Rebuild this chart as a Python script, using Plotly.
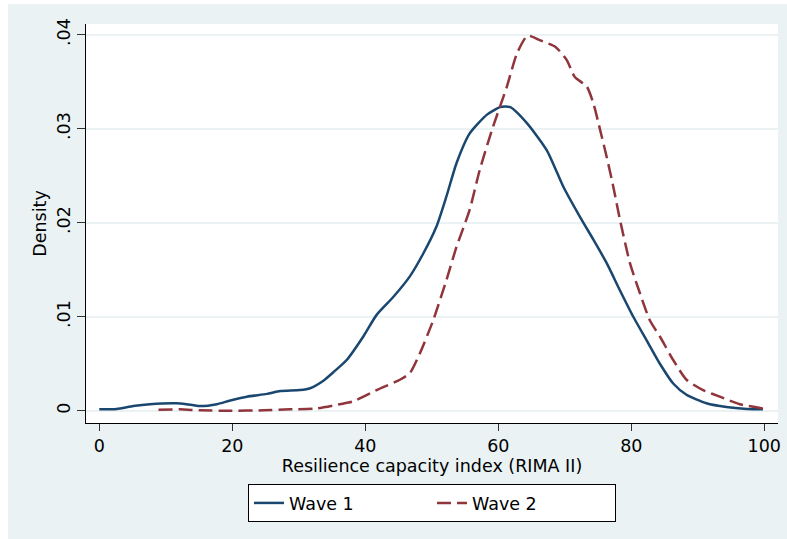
import plotly.graph_objects as go

# Wave 1 kernel density
w1_x = [0, 2.6, 5.1, 7.6, 11.6, 13.1, 15.1, 17.7, 19.7, 22.2, 25.2, 27.2, 30.2, 31.7, 33.7,
        35.2, 37.2, 39.7, 41.7, 44.2, 46.7, 48.7, 50.7, 52.2, 53.7, 55.7, 58.3, 60.3, 61.8,
        64.3, 67.3, 69.8, 72.3, 74.3, 76.3, 78.3, 80.3, 82.3, 84.3, 86.3, 88.3, 91.3, 94.3,
        97.4, 99.8]
w1_y = [0.00015, 0.0002, 0.0005, 0.0007, 0.0008, 0.0007, 0.0005, 0.0007, 0.0011, 0.0015,
        0.0018, 0.0021, 0.0022, 0.0024, 0.0032, 0.0041, 0.0054, 0.0079, 0.0102, 0.0121,
        0.0143, 0.0167, 0.0196, 0.0228, 0.0263, 0.0295, 0.0315, 0.0323, 0.0323, 0.0306,
        0.0277, 0.0238, 0.0206, 0.0182, 0.0157, 0.0128, 0.0100, 0.0075, 0.0050, 0.0029,
        0.0017, 0.0008, 0.0004, 0.0002, 0.00015]

# Wave 2 kernel density
w2_x = [8.9, 12.1, 15.1, 19.7, 24.7, 28.7, 32.7, 36.2, 38.2, 41.7, 45.2, 46.7, 48.2, 50.2,
        52.2, 53.7, 55.7, 57.2, 59.2, 61.3, 62.8, 64.4, 66.3, 68.6, 70.3, 71.5, 73.3, 74.3,
        75.3, 76.3, 77.3, 78.3, 79.8, 81.3, 82.8, 84.3, 86.3, 88.3, 90.8, 93.3, 96.3, 99.8]
w2_y = [0.0001, 0.00015, 0.00005, 0.0, 0.00005, 0.00015, 0.00025, 0.0007, 0.001, 0.0022,
        0.0033, 0.004, 0.0061, 0.0096, 0.0139, 0.0174, 0.0214, 0.0256, 0.0302, 0.0345,
        0.0380, 0.0399, 0.0394, 0.0387, 0.0373, 0.0355, 0.0345, 0.0327, 0.0299, 0.0270,
        0.0238, 0.0203, 0.0157, 0.0125, 0.0096, 0.0079, 0.0054, 0.0033, 0.0022, 0.0015,
        0.0007, 0.00025]

x_ticks = [0, 20, 40, 60, 80, 100]
y_ticks = [0, 0.01, 0.02, 0.03, 0.04]
y_tick_text = ["0", ".01", ".02", ".03", ".04"]

BG = "#EAF2F3"
FONT = "DejaVu Sans, Liberation Sans, Arial, sans-serif"
FS = 17.5

fig = go.Figure()
fig.add_trace(go.Scatter(x=w1_x, y=w1_y, mode="lines", name="Wave 1",
                         line=dict(color="#1A476F", width=2.5, shape="spline", smoothing=0.6)))
fig.add_trace(go.Scatter(x=w2_x, y=w2_y, mode="lines", name="Wave 2",
                         line=dict(color="#90353B", width=2.5, dash="14px,6px",
                                   shape="spline", smoothing=0.6)))

fig.update_layout(
    width=779, height=535,
    margin=dict(l=78, r=9, t=20, b=116, autoexpand=False),
    paper_bgcolor=BG, plot_bgcolor="white",
    font=dict(family=FONT, size=FS, color="black"),
    showlegend=True,
    legend=dict(orientation="h", x=0.5, xanchor="center", y=-0.153, yanchor="top",
                bgcolor="white", bordercolor="black", borderwidth=1,
                font=dict(size=FS), entrywidth=138, traceorder="normal"),
)

fig.update_xaxes(range=[-2.0, 102.06], tickvals=x_ticks, ticks="outside", ticklen=7,
                 tickcolor="#333333", showgrid=False, zeroline=False, automargin=False,
                 showline=True, linecolor="black", linewidth=1.3,
                 title=dict(text="Resilience capacity index (RIMA II)", standoff=0,
                            font=dict(size=FS)),
                 tickfont=dict(size=FS))
fig.update_yaxes(range=[-0.0013, 0.04114], tickvals=y_ticks, ticktext=y_tick_text,
                 tickangle=-90, ticks="outside", ticklen=8, tickcolor="#333333",
                 showgrid=True, gridcolor=BG, gridwidth=1.5, zeroline=False, automargin=False,
                 showline=True, linecolor="black", linewidth=1.3,
                 title=dict(text="Density", standoff=2, font=dict(size=FS)),
                 tickfont=dict(size=FS))

fig.write_html("out.html",
               post_script="document.body.style.margin='4px 0 0 8px';"
                           "document.body.style.overflow='hidden';")
